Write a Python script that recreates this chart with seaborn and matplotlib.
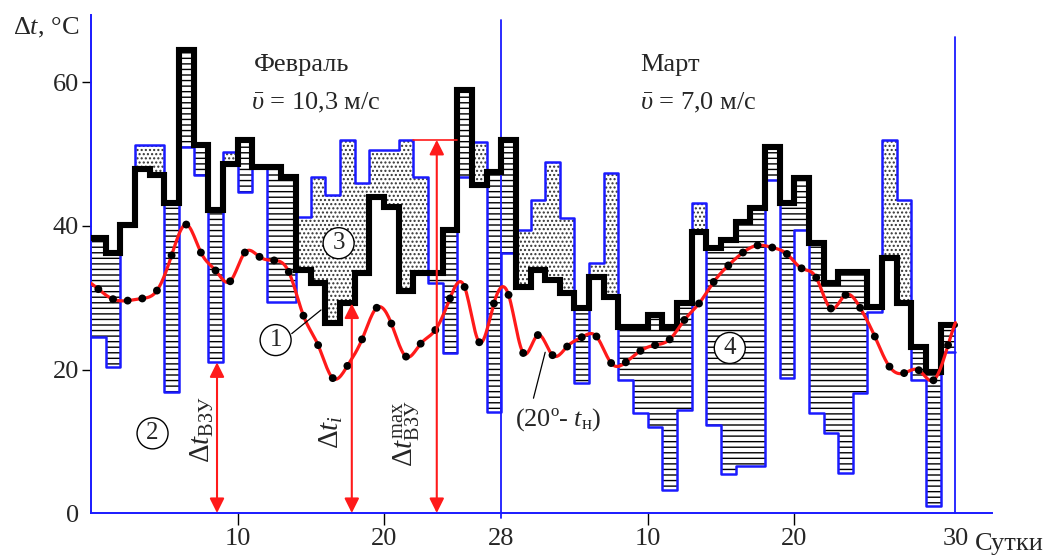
import numpy as np
import matplotlib
matplotlib.use("Agg")
import matplotlib.pyplot as plt
import seaborn as sns

# Daily values: February (28 days) followed by March (31 days)
# Curve 1: required temperature difference (black step line)
dt_need_feb = [38.3, 36.2, 40.1, 48.0, 47.1, 43.2, 64.5, 51.3, 42.2, 48.7,
               52.0, 48.2, 48.2, 46.8, 33.8, 32.0, 26.5, 29.2, 33.4, 44.0,
               42.6, 31.0, 33.4, 33.4, 39.4, 58.9, 45.7, 47.5]
dt_need_mar = [52.0, 31.5, 33.8, 32.5, 30.6, 28.6, 32.9, 30.1, 25.9, 25.9,
               27.6, 25.9, 29.2, 39.1, 36.9, 38.0, 40.5, 42.5, 51.0, 43.2,
               46.7, 37.6, 32.0, 33.6, 33.6, 28.7, 35.5, 29.2, 23.1, 19.6, 26.2]
# Curve 2: temperature difference provided by the air-heating unit (blue step line)
dt_vzu_feb = [24.5, 20.3, 40.1, 51.3, 51.3, 16.9, 51.0, 47.1, 21.0, 50.3,
              44.7, 48.2, 29.4, 29.4, 41.2, 46.8, 44.3, 52.0, 46.0, 50.6,
              50.6, 52.0, 46.8, 32.0, 22.3, 46.8, 51.7, 14.1]
dt_vzu_mar = [36.3, 39.4, 43.6, 48.9, 41.1, 18.1, 34.8, 47.4, 18.5, 14.0,
              12.0, 3.2, 14.3, 43.2, 12.3, 5.4, 6.5, 6.5, 46.4, 18.8,
              39.4, 13.9, 11.1, 5.6, 16.7, 28.0, 52.0, 43.6, 18.5, 1.0, 22.5]
# (20° - t_н): indoor 20 °C minus daily outdoor temperature (red curve, black dots)
dt_out = [31.2, 29.8, 29.6, 29.9, 31.0, 35.9, 40.2, 36.3, 33.8, 32.3,
          36.3, 35.7, 35.2, 33.6, 27.5, 23.4, 18.8, 20.5, 24.2, 28.6,
          26.4, 21.8, 23.6, 25.5, 29.9, 31.5, 23.8, 29.2, 30.4, 22.3,
          24.8, 22.0, 23.2, 24.5, 24.6, 20.9, 21.0, 22.6, 23.4, 24.2,
          26.9, 29.2, 32.2, 34.5, 36.3, 37.3, 37.0, 36.1, 34.1, 32.8,
          28.5, 30.4, 28.6, 24.6, 20.4, 19.5, 19.9, 18.5, 23.4]

x_ticks = [10, 20, 28, 38, 48, 59]
x_tick_labels = ["10", "20", "28", "10", "20", "30"]
y_ticks = [0, 20, 40, 60]
y_tick_labels = ["0", "20", "40", "60"]
month_ends = [28, 59]

BLUE = "#1a1aff"
RED = "#ff1a1a"

sns.set_theme(style="white")
plt.rcParams["font.family"] = ["Liberation Serif", "DejaVu Serif"]
plt.rcParams["mathtext.fontset"] = "custom"
plt.rcParams["mathtext.rm"] = "Liberation Serif"
plt.rcParams["mathtext.it"] = "Liberation Serif:italic"
plt.rcParams["mathtext.bf"] = "Liberation Serif:bold"
plt.rcParams["hatch.linewidth"] = 1.0
plt.rcParams["hatch.color"] = "black"


def natural_spline(x, y, xs):
    """Natural cubic spline through (x, y), evaluated at xs."""
    x = np.asarray(x, float)
    y = np.asarray(y, float)
    n = len(x)
    h = np.diff(x)
    A = np.zeros((n, n))
    r = np.zeros(n)
    A[0, 0] = A[-1, -1] = 1.0
    for i in range(1, n - 1):
        A[i, i - 1] = h[i - 1]
        A[i, i] = 2 * (h[i - 1] + h[i])
        A[i, i + 1] = h[i]
        r[i] = 6 * ((y[i + 1] - y[i]) / h[i] - (y[i] - y[i - 1]) / h[i - 1])
    M = np.linalg.solve(A, r)
    idx = np.clip(np.searchsorted(x, xs) - 1, 0, n - 2)
    x0, x1 = x[idx], x[idx + 1]
    hh = x1 - x0
    t0, t1 = x1 - xs, xs - x0
    return (M[idx] * t0 ** 3 / (6 * hh) + M[idx + 1] * t1 ** 3 / (6 * hh)
            + (y[idx] / hh - M[idx] * hh / 6) * t0
            + (y[idx + 1] / hh - M[idx + 1] * hh / 6) * t1)


dt_need = np.array(dt_need_feb + dt_need_mar)
dt_vzu = np.array(dt_vzu_feb + dt_vzu_mar)
n_days = len(dt_need)
days = np.arange(n_days)

fig = plt.figure(figsize=(10.45, 5.56), dpi=100)
ax = fig.add_axes([0.0871, 0.0773, 0.8622, 0.8957])

# Hatched areas between the two step curves
gap = dt_need - dt_vzu
short = gap > 0
excess = gap < 0
ax.bar(days[short], gap[short], bottom=dt_vzu[short], width=1, align="edge",
       color="none", edgecolor="black", linewidth=0, hatch="---", zorder=1)
ax.bar(days[excess], -gap[excess], bottom=dt_need[excess], width=1, align="edge",
       color="none", edgecolor="#333333", linewidth=0, hatch="....", zorder=1)

# Step curves
edges = np.arange(n_days + 1)
sns.lineplot(x=edges, y=np.append(dt_vzu, dt_vzu[-1]), drawstyle="steps-post",
             color=BLUE, lw=1.8, ax=ax, zorder=2, estimator=None, sort=False)
sns.lineplot(x=edges, y=np.append(dt_need, dt_need[-1]), drawstyle="steps-post",
             color="black", lw=4.4, ax=ax, zorder=3, estimator=None, sort=False,
             solid_joinstyle="miter")

# Outdoor curve
centers = days + 0.5
xs = np.linspace(0, n_days, 800)
sns.lineplot(x=xs, y=natural_spline(centers, dt_out, xs), color=RED, lw=2.3,
             ax=ax, zorder=4, estimator=None, sort=False)
sns.scatterplot(x=centers, y=dt_out, color="black", s=32, edgecolor="none",
                ax=ax, zorder=5)

# Month boundaries
ax.plot([month_ends[0]] * 2, [-0.7, 68.7], color=BLUE, lw=1.3, clip_on=False, zorder=2)
ax.plot([month_ends[1]] * 2, [0, 66.3], color=BLUE, lw=1.3, clip_on=False, zorder=2)


def double_arrow(x, top):
    ax.annotate("", xy=(x, top), xytext=(x, 0),
                arrowprops=dict(arrowstyle="<|-|>", color=RED, lw=1.5,
                                mutation_scale=22, shrinkA=0, shrinkB=0),
                zorder=6)


double_arrow(8.6, dt_vzu[8])
double_arrow(17.8, dt_need[17])
vzu_max = dt_vzu[:28].max()
double_arrow(23.6, vzu_max)
ax.plot([22, 25], [vzu_max, vzu_max], color=RED, lw=1.2, zorder=6)

# Labels of the quantities
ax.text(7.6, 11.6, r"$\Delta t_{\mathrm{ВЗУ}}$", rotation=90, ha="center",
        va="center", fontsize=21, zorder=7)
ax.text(16.4, 11.3, r"$\Delta t_i$", rotation=90, ha="center", va="center",
        fontsize=21, zorder=7)
ax.text(21.6, 11.1, r"$\Delta t^{\mathrm{max}}_{\mathrm{ВЗУ}}$", rotation=90,
        ha="center", va="center", fontsize=21, zorder=7)

ax.text(11.1, 62.4, "Февраль", ha="left", va="center", fontsize=19)
ax.text(10.9, 57.1, r"$\bar{\upsilon}$ = 10,3 м/с", ha="left", va="center", fontsize=19)
ax.text(37.5, 62.4, "Март", ha="left", va="center", fontsize=19)
ax.text(37.5, 57.1, r"$\bar{\upsilon}$ = 7,0 м/с", ha="left", va="center", fontsize=19)

circle = dict(boxstyle="circle,pad=0.18", fc="white", ec="black", lw=1.0)
for x, y, s in [(12.6, 24.1, "1"), (4.2, 11.1, "2"), (16.9, 37.6, "3"), (43.6, 23.0, "4")]:
    ax.text(x, y, s, ha="center", va="center", fontsize=18, bbox=circle, zorder=8)
ax.plot([13.7, 15.7], [25.0, 28.3], color="black", lw=0.9, zorder=7)

ax.text(31.9, 13.0, r"(20º- $t_{\mathrm{н}}$)", ha="center", va="center", fontsize=19)
ax.plot([30.2, 31.0], [16.0, 22.4], color="black", lw=0.9, zorder=7)

# Axes
ax.set_xlim(0, 61.5)
ax.set_ylim(0, 69.4)
ax.set_xticks(x_ticks)
ax.set_xticklabels(x_tick_labels)
ax.set_yticks(y_ticks)
ax.set_yticklabels(y_tick_labels)
ax.tick_params(axis="x", bottom=True, direction="out", length=8.5, width=1.0,
               color="black", labelsize=19, pad=2)
ax.tick_params(axis="y", left=True, direction="out", length=6.5, width=1.0,
               color="black", labelsize=19, pad=2)
ax.yaxis.get_major_ticks()[0].tick1line.set_visible(False)
for i in (2, 5):
    ax.xaxis.get_major_ticks()[i].tick1line.set_visible(False)
ax.set_xlabel("")
ax.set_ylabel("")
for side in ("top", "right"):
    ax.spines[side].set_visible(False)
for side in ("left", "bottom"):
    ax.spines[side].set_color(BLUE)
    ax.spines[side].set_linewidth(1.4)
ax.grid(False)

ax.text(62.7, -4.3, "Сутки", ha="center", va="center", fontsize=19, clip_on=False)
fig.text(46 / 1045, 1 - 28 / 556, r"$\Delta t$, °C", ha="center", va="center", fontsize=19)

fig.savefig("out.png", dpi=100, facecolor="white")
